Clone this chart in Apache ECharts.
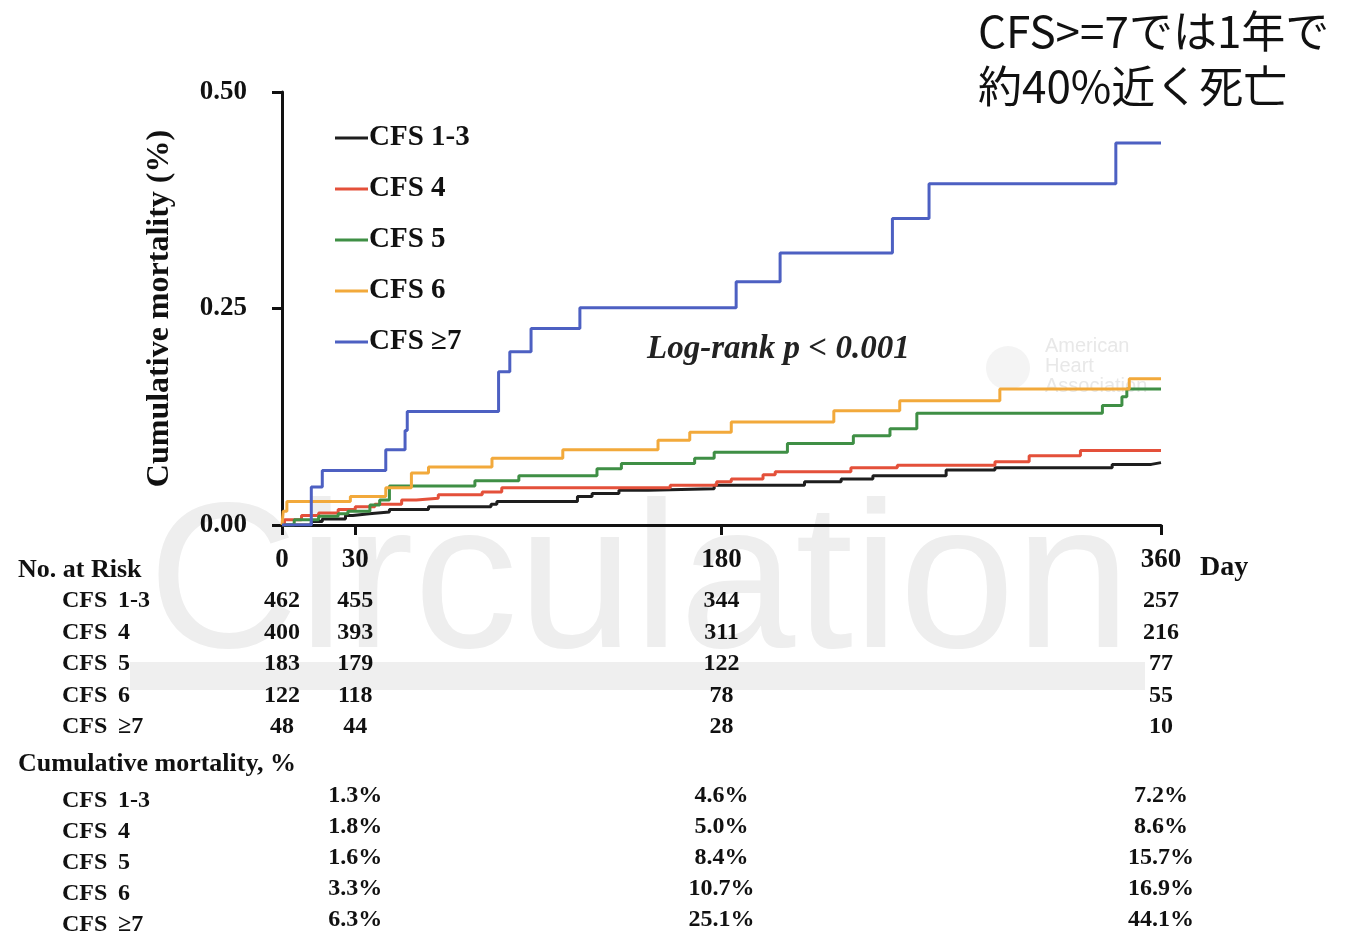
<!DOCTYPE html>
<html>
<head>
<meta charset="utf-8">
<title>Cumulative mortality by CFS</title>
<script src="https://cdn.jsdelivr.net/npm/echarts@6/dist/echarts.min.js"></script>
<style>
  html, body { margin: 0; padding: 0; background: #ffffff; }
  #chart { width: 1355px; height: 938px; }
</style>
</head>
<body>
<div id="chart"></div>
<script>
// ---- Data ---------------------------------------------------------------
const groups = ['CFS 1-3', 'CFS 4', 'CFS 5', 'CFS 6', 'CFS \u22657'];
const rowSuffix = ['1-3', '4', '5', '6', '\u22657'];

// Kaplan-Meier cumulative mortality: day of each step and value held from that day
const cfs13Days = [0, 12, 16.5, 26, 29, 35.7, 44, 60, 85.6, 88, 121, 127, 138, 150, 177, 214, 229, 242, 272, 292, 340, 356, 360];
const cfs13Mort = [0, 0.004, 0.007, 0.011, 0.013, 0.015, 0.018, 0.021, 0.024, 0.027, 0.033, 0.0365, 0.040, 0.042, 0.046, 0.050, 0.053, 0.057, 0.0635, 0.066, 0.070, 0.072, 0.072];

const cfs4Days = [0, 1, 8, 15, 23, 30, 38, 49, 55, 64, 82, 90, 159, 178, 184, 197, 202, 233, 252, 292, 306, 327, 360];
const cfs4Mort = [0, 0.006, 0.011, 0.014, 0.018, 0.021, 0.024, 0.029, 0.031, 0.035, 0.038, 0.043, 0.046, 0.050, 0.053, 0.058, 0.0615, 0.066, 0.069, 0.073, 0.080, 0.086, 0.086];

const cfs5Days = [0, 5, 15, 23, 27, 36, 40, 44, 79, 97, 129, 139, 169, 177, 207, 234, 249, 260, 336, 344, 346, 360];
const cfs5Mort = [0, 0.006, 0.010, 0.013, 0.016, 0.023, 0.029, 0.045, 0.051, 0.057, 0.065, 0.071, 0.077, 0.084, 0.094, 0.103, 0.111, 0.129, 0.138, 0.148, 0.157, 0.157];

const cfs6Days = [0, 0.5, 2, 28, 42.5, 53, 60, 86, 115, 154, 167, 184, 226, 253, 294, 347, 360];
const cfs6Mort = [0, 0.016, 0.027, 0.033, 0.043, 0.060, 0.067, 0.077, 0.087, 0.098, 0.107, 0.119, 0.132, 0.1435, 0.157, 0.169, 0.169];

const cfs7Days = [0, 12, 16.5, 42.5, 50.4, 51.3, 88.7, 93.3, 102, 122, 186, 204, 250, 265, 341.5, 360];
const cfs7Mort = [0, 0.044, 0.063, 0.087, 0.109, 0.131, 0.177, 0.200, 0.227, 0.251, 0.281, 0.314, 0.354, 0.394, 0.441, 0.441];

const curveDays = [cfs13Days, cfs4Days, cfs5Days, cfs6Days, cfs7Days];
const curveMort = [cfs13Mort, cfs4Mort, cfs5Mort, cfs6Mort, cfs7Mort];

// Axis ticks
const dayTicks = [0, 30, 180, 360];

// Number at risk at each tick day
const riskDays = [0, 30, 180, 360];
const atRisk13 = [462, 455, 344, 257];
const atRisk4 = [400, 393, 311, 216];
const atRisk5 = [183, 179, 122, 77];
const atRisk6 = [122, 118, 78, 55];
const atRisk7 = [48, 44, 28, 10];
const atRisk = [atRisk13, atRisk4, atRisk5, atRisk6, atRisk7];

// Cumulative mortality (%) at 30, 180 and 360 days
const mortDays = [30, 180, 360];
const mortPct13 = [1.3, 4.6, 7.2];
const mortPct4 = [1.8, 5.0, 8.6];
const mortPct5 = [1.6, 8.4, 15.7];
const mortPct6 = [3.3, 10.7, 16.9];
const mortPct7 = [6.3, 25.1, 44.1];
const mortPct = [mortPct13, mortPct4, mortPct5, mortPct6, mortPct7];

// ---- Styling ------------------------------------------------------------
const colors = ['#1e1e1e', '#e4503a', '#3f8f45', '#f2a93b', '#4d60c2'];
const serif = '"Liberation Serif", "Times New Roman", serif';
const cjk = '"Noto Sans CJK JP", "Noto Sans", sans-serif';

const chart = echarts.init(document.getElementById('chart'), null, { renderer: 'canvas' });

const series = groups.map((name, g) => ({
  name: name,
  type: 'line',
  step: 'end',
  showSymbol: false,
  data: curveDays[g].map((d, i) => [d, curveMort[g][i]]),
  lineStyle: { color: colors[g], width: 3 },
  itemStyle: { color: colors[g] },
  z: 3 + g
}));

chart.setOption({
  animation: false,
  backgroundColor: '#ffffff',
  grid: { left: 282, right: 194, top: 92, bottom: 413, containLabel: false },
  xAxis: {
    type: 'value',
    min: 0,
    max: 360,
    axisLine: { show: true, lineStyle: { color: '#111', width: 3 } },
    axisTick: { show: true, length: 10, customValues: dayTicks, lineStyle: { color: '#111', width: 3 } },
    axisLabel: {
      customValues: dayTicks,
      margin: 22,
      color: '#111',
      fontFamily: serif,
      fontWeight: 'bold',
      fontSize: 27
    },
    splitLine: { show: false }
  },
  yAxis: {
    type: 'value',
    min: 0,
    max: 0.5,
    interval: 0.25,
    name: 'Cumulative mortality (%)',
    nameLocation: 'middle',
    nameGap: 106,
    nameTextStyle: { color: '#111', fontFamily: serif, fontWeight: 'bold', fontSize: 32 },
    axisLine: { show: true, lineStyle: { color: '#111', width: 3 } },
    axisTick: { show: true, length: 10, lineStyle: { color: '#111', width: 3 } },
    axisLabel: {
      margin: 35,
      color: '#111',
      fontFamily: serif,
      fontWeight: 'bold',
      fontSize: 27,
      formatter: v => v.toFixed(2)
    },
    splitLine: { show: false }
  },
  legend: {
    orient: 'vertical',
    left: 330,
    top: 118,
    icon: 'rect',
    itemWidth: 33,
    itemHeight: 3,
    itemGap: 21,
    data: groups,
    textStyle: { color: '#111', fontFamily: serif, fontWeight: 'bold', fontSize: 29, lineHeight: 30, padding: [0, 0, 0, -4] }
  },
  series: series
});

// ---- Annotations and tables ---------------------------------------------
const colX = d => chart.convertToPixel({ xAxisIndex: 0 }, d);
const graphics = [];

function txt(x, y, text, opts) {
  const o = opts || {};
  graphics.push({
    type: 'text',
    x: x,
    y: y,
    z: o.z != null ? o.z : 50,
    silent: true,
    style: {
      text: text,
      fill: o.fill || '#111',
      font: (o.style || '') + ' ' + (o.weight || 'bold') + ' ' + (o.size || 24) + 'px ' + (o.family || serif),
      textAlign: o.align || 'left',
      textVerticalAlign: 'middle'
    }
  });
}

// background journal mark
graphics.push({
  type: 'text', x: 148, y: 590, z: 0, silent: true,
  style: { text: 'Circulation', fill: '#eeeeee', font: 'normal 208px "Liberation Sans", Arial, sans-serif', textAlign: 'left', textVerticalAlign: 'middle' }
});
graphics.push({
  type: 'rect', z: 0, silent: true,
  shape: { x: 130, y: 662, width: 1015, height: 28 },
  style: { fill: '#efefef' }
});
graphics.push({
  type: 'circle', z: 0, silent: true,
  shape: { cx: 1008, cy: 368, r: 22 },
  style: { fill: '#f4f4f4' }
});
['American', 'Heart', 'Association'].forEach((w, i) => {
  txt(1045, 346 + i * 20, w, { weight: 'normal', size: 20, family: '"Liberation Sans", Arial, sans-serif', fill: '#e8e8e8', z: 0 });
});

// headline note
txt(978, 31, 'CFS>=7では1年で', { weight: 'normal', size: 44, family: cjk });
txt(978, 86, '約40%近く死亡', { weight: 'normal', size: 44, family: cjk });

// test statistic
txt(647, 349, 'Log-rank p < 0.001', { style: 'italic', size: 33, fill: '#222' });

// axis unit
txt(1200, 568, 'Day', { size: 28 });

// number at risk
txt(18, 570, 'No. at Risk', { size: 26 });
const riskRowY = [601, 633, 664, 696, 727];
groups.forEach((g, r) => {
  txt(62, riskRowY[r], 'CFS', { size: 24 });
  txt(118, riskRowY[r], rowSuffix[r], { size: 24 });
  riskDays.forEach((d, c) => {
    txt(colX(d), riskRowY[r], String(atRisk[r][c]), { size: 24, align: 'center' });
  });
});

// cumulative mortality table
txt(18, 764, 'Cumulative mortality, %', { size: 26 });
const mortLabelY = [801, 832, 863, 894, 925];
groups.forEach((g, r) => {
  txt(62, mortLabelY[r], 'CFS', { size: 24 });
  txt(118, mortLabelY[r], rowSuffix[r], { size: 24 });
  mortDays.forEach((d, c) => {
    txt(colX(d), mortLabelY[r] - 5, mortPct[r][c].toFixed(1) + '%', { size: 24, align: 'center' });
  });
});

chart.setOption({ graphic: graphics });
</script>
</body>
</html>
